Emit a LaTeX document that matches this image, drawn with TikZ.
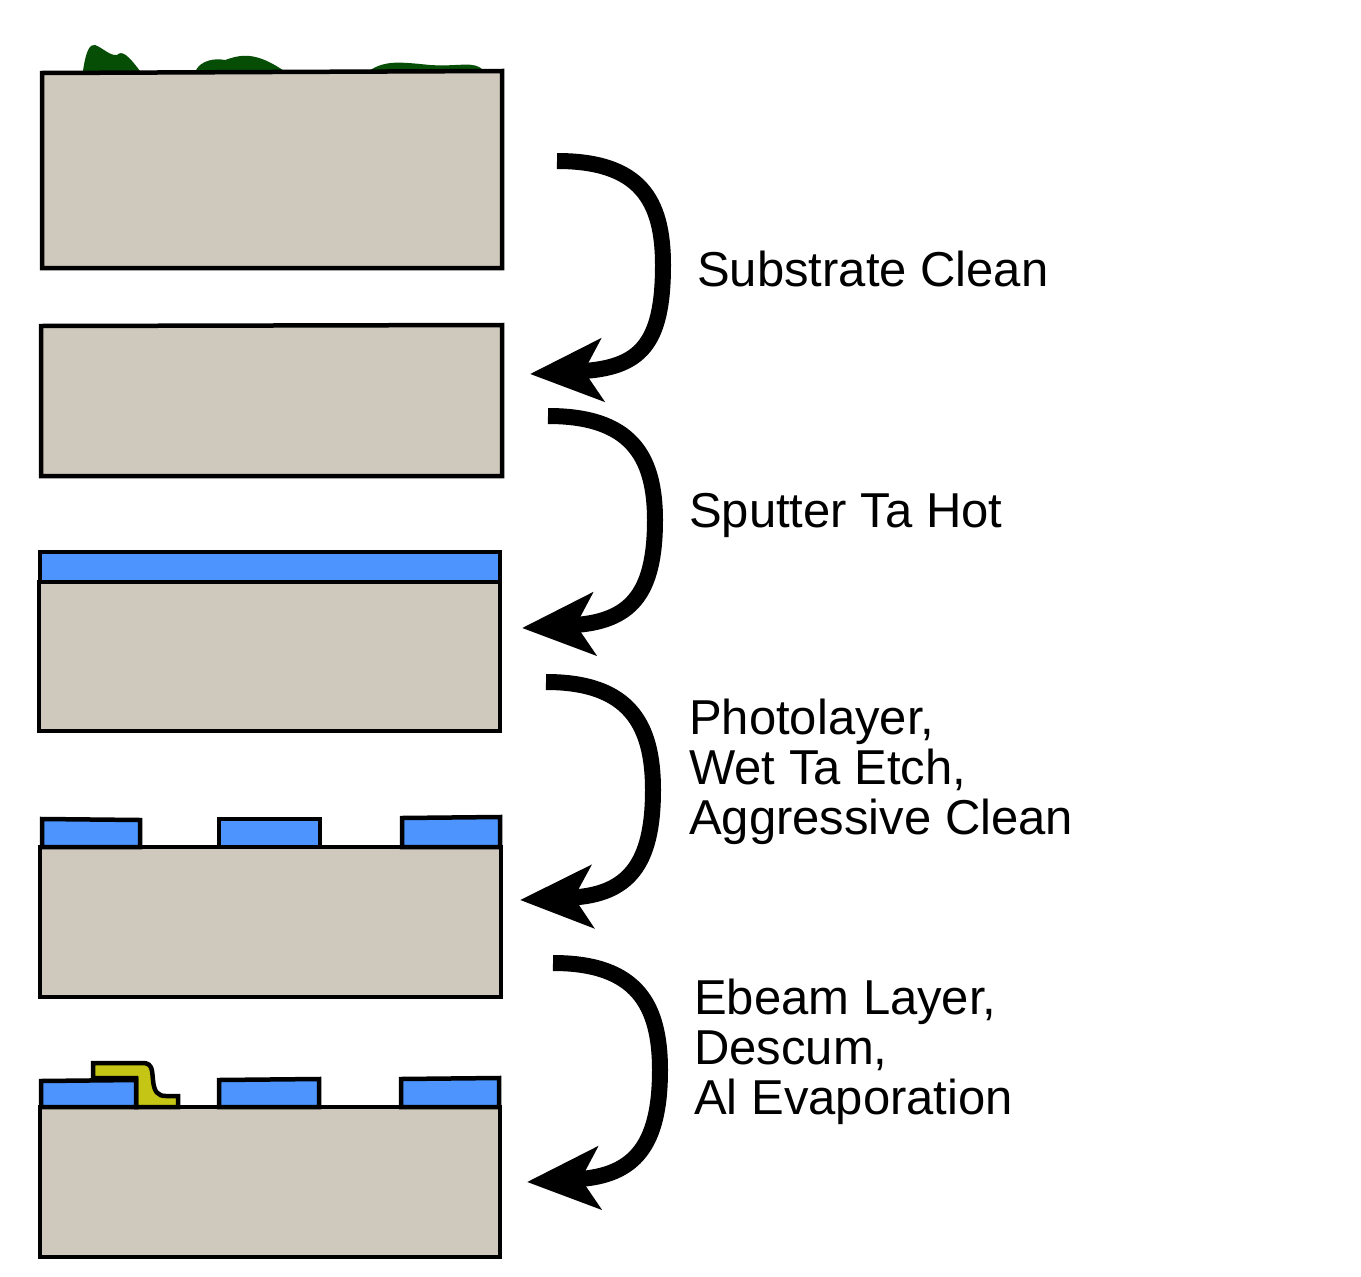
\documentclass[tikz,border=0pt]{standalone}
\usepackage{fontspec}
\setmainfont{Liberation Sans}
\usetikzlibrary{arrows.meta}
\definecolor{subst}{RGB}{207,200,188}
\definecolor{tab}{RGB}{77,148,255}
\definecolor{dirt}{RGB}{6,77,6}
\definecolor{alum}{RGB}{196,197,20}
\begin{document}
\begin{tikzpicture}[x=1pt,y=-1pt,
  slab/.style={draw=black,line width=4.5pt,fill=subst},
  film/.style={draw=black,line width=4.5pt,fill=tab,line join=miter},
  flow/.style={line width=16pt,-{Stealth[length=72pt,width=62pt,inset=18pt]}},
  lbl/.style={anchor=base west,inner sep=0pt,font=\fontsize{49}{50}\selectfont,align=left}]
\useasboundingbox (0,0) rectangle (1361,1277);
% slab 1 with contamination
\fill[dirt] (83,71) .. controls (86,50) and (90,44) .. (95,45) .. controls (103,48) and (110,56) .. (117,55) .. controls (122,50) and (128,55) .. (140,71) -- cycle;
\fill[dirt] (195,72) .. controls (200,60) and (215,58) .. (225,60) .. controls (240,55) and (255,50) .. (287,73) -- cycle;
\fill[dirt] (369,71) .. controls (385,60) and (400,62) .. (430,65) .. controls (460,67) and (475,60) .. (484,71) -- cycle;
\draw[slab] (42,73) -- (502,71) -- (502,268) -- (42,268) -- cycle;
% slab 2
\draw[slab] (41,326) -- (502,325) -- (502,476) -- (41,476) -- cycle;
% slab 3
\draw[slab] (39,582) rectangle (500,731);
\draw[film] (40,552) rectangle (500,582);
% slab 4
\draw[slab] (40,847) rectangle (501,997);
\draw[film] (42,819) -- (140,820) -- (140,847) -- (42,847) -- cycle;
\draw[film] (219,819) -- (320,819) -- (320,847) -- (219,847) -- cycle;
\draw[film] (402,818) -- (500,817) -- (500,847) -- (402,847) -- cycle;
% slab 5
\draw[slab] (40,1107) rectangle (500,1257);
\draw[draw=black,line width=4.5pt,fill=alum,line join=miter] (93,1078) -- (93,1063) -- (143,1063) .. controls (153,1063) and (152,1072) .. (153,1080) .. controls (154,1092) and (158,1096) .. (166,1096) -- (178,1096) -- (178,1107) -- (136,1107) -- (136,1078) -- cycle;
\draw[film] (41,1081) -- (136,1080) -- (136,1107) -- (41,1107) -- cycle;
\draw[film] (219,1080) -- (319,1079) -- (319,1107) -- (219,1107) -- cycle;
\draw[film] (401,1079) -- (499,1078) -- (499,1107) -- (401,1107) -- cycle;
% arrows
\coordinate (s1) at (557,161); \coordinate (e1) at (530,374);
\coordinate (s2) at (548,416); \coordinate (e2) at (522,628);
\coordinate (s3) at (546,682); \coordinate (e3) at (520,900);
\coordinate (s4) at (553,963); \coordinate (e4) at (527,1182);
\draw[flow] (s1) .. controls (640,161) and (663,200) .. (663,265) .. controls (663,345) and (640,368) .. (e1);
\draw[flow] (s2) .. controls (630,416) and (655,455) .. (655,520) .. controls (655,595) and (630,622) .. (e2);
\draw[flow] (s3) .. controls (630,682) and (653,725) .. (653,790) .. controls (653,865) and (628,895) .. (e3);
\draw[flow] (s4) .. controls (637,963) and (660,1005) .. (660,1070) .. controls (660,1145) and (635,1176) .. (e4);
% labels
\node[lbl] (t1) at (697,286) {Substrate Clean};
\node[lbl] (t2) at (689,527) {Sputter Ta Hot};
\node[lbl] (t3) at (689,834) {Photolayer,\\Wet Ta Etch,\\Aggressive Clean};
\node[lbl] (t4) at (694,1114) {Ebeam Layer,\\Descum,\\Al Evaporation};
\end{tikzpicture}
\end{document}
